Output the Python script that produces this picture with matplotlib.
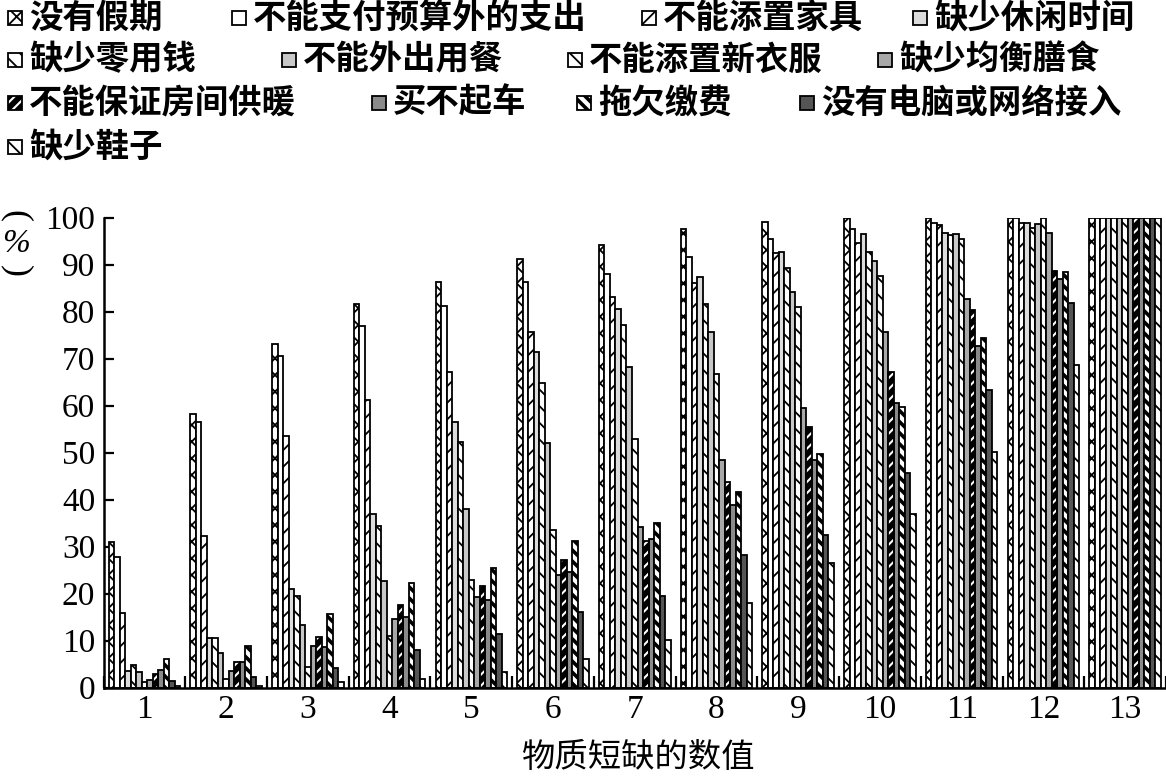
import matplotlib
matplotlib.use("Agg")
import matplotlib.pyplot as plt
from matplotlib.patches import Rectangle
import numpy as np

plt.rcParams['hatch.linewidth'] = 1.3

# ---------------- data ----------------
groups = ['1', '2', '3', '4', '5', '6', '7', '8', '9', '10', '11', '12', '13']
series = ['没有假期', '不能支付预算外的支出', '不能添置家具', '缺少休闲时间',
          '缺少零用钱', '不能外出用餐', '不能添置新衣服', '缺少均衡膳食',
          '不能保证房间供暖', '买不起车', '拖欠缴费', '没有电脑或网络接入', '缺少鞋子']

no_holiday    = [31.0, 58.1, 73.0, 81.5, 86.2, 91.1, 94.1, 97.5, 99.0, 99.8, 100.0, 100.0, 100]
unexpected    = [27.8, 56.4, 70.5, 77.0, 81.2, 86.2, 87.9, 91.5, 95.4, 97.5, 98.9, 99.8, 100]
furniture     = [15.8, 32.3, 53.5, 61.2, 67.1, 75.6, 83.0, 86.0, 92.4, 94.6, 98.3, 98.9, 100]
leisure       = [3.5, 10.6, 20.9, 36.9, 56.4, 71.4, 80.5, 87.3, 92.6, 96.4, 96.6, 98.9, 100]
pocket_money  = [4.7, 10.5, 19.5, 34.4, 52.2, 64.7, 77.1, 81.7, 89.2, 92.6, 96.3, 97.7, 100]
eat_out       = [3.4, 7.3, 13.4, 22.6, 37.9, 52.0, 68.1, 75.7, 84.1, 90.8, 96.4, 98.6, 100]
new_clothes   = [1.2, 1.8, 4.4, 11.0, 22.8, 33.6, 52.9, 66.7, 80.9, 87.6, 95.5, 99.8, 100]
balanced_diet = [1.7, 3.6, 8.8, 14.5, 19.3, 23.9, 34.1, 48.4, 59.4, 75.6, 82.6, 96.6, 100]
heating       = [2.8, 5.5, 10.7, 17.6, 21.7, 27.1, 31.2, 43.8, 55.5, 67.2, 80.3, 88.6, 100]
car           = [3.7, 5.5, 8.6, 14.9, 18.7, 24.6, 31.7, 38.8, 48.3, 60.5, 72.7, 86.9, 100]
arrears       = [6.1, 8.8, 15.6, 22.2, 25.4, 31.1, 34.9, 41.5, 49.6, 59.7, 74.3, 88.3, 100]
computer      = [1.3, 2.3, 4.1, 7.9, 11.3, 16.0, 19.5, 28.2, 32.4, 45.7, 63.2, 81.9, 100]
shoes         = [0.3, 0.3, 1.2, 1.8, 3.4, 6.0, 10.1, 17.9, 26.4, 36.9, 50.2, 68.6, 100]

values = [no_holiday, unexpected, furniture, leisure, pocket_money, eat_out,
          new_clothes, balanced_diet, heating, car, arrears, computer, shoes]

y_ticks = [0, 10, 20, 30, 40, 50, 60, 70, 80, 90, 100]
x_label = '物质短缺的数值'

# ---------------- styles ----------------
# (facecolor, hatch, hatchcolor, hatch linewidth)
styles = [
    ('white', 'xx', 'black', 1.3),
    ('white', '', 'black', 1.3),
    ('white', '//', 'black', 1.3),
    ('#dcdcdc', '', 'black', 1.3),
    ('white', '\\\\', 'black', 1.3),
    ('#c8c8c8', '', 'black', 1.3),
    ('white', '\\\\', 'black', 1.3),
    ('#a8a8a8', '', 'black', 1.3),
    ('black', '///', 'white', 1.5),
    ('#8a8a8a', '', 'black', 1.3),
    ('white', '\\\\\\', 'black', 2.6),
    ('#555555', '', 'black', 1.3),
    ('white', '\\\\', 'black', 1.3),
]


def set_hlw(artist, lw):
    if hasattr(artist, 'set_hatch_linewidth'):
        try:
            artist.set_hatch_linewidth(lw)
        except Exception:
            pass


W, H = 1166, 776
fig = plt.figure(figsize=(W / 100, H / 100), dpi=100)

ax_left, ax_right = 103.5, 1166.0
ax_bottom, ax_top = 687.5, 217.5
ax = fig.add_axes([ax_left / W, 1 - ax_bottom / H,
                   (ax_right - ax_left) / W, (ax_bottom - ax_top) / H])

n = len(series)
centers = np.arange(len(groups))
group_w = 0.875
w = group_w / n

edge_lw = 1.3
for j, (vals, (fc, hatch, hc, hlw)) in enumerate(zip(values, styles)):
    xs = centers - group_w / 2 + w * (j + 0.5)
    if hc == 'white':
        bars = ax.bar(xs, vals, width=w, color=fc, edgecolor='white', hatch=hatch,
                      linewidth=0, zorder=2)
        for b in bars:
            set_hlw(b, hlw)
        ax.bar(xs, vals, width=w, fill=False, edgecolor='black',
               linewidth=edge_lw, zorder=3)
    else:
        bars = ax.bar(xs, vals, width=w, color=fc, edgecolor='black', hatch=hatch,
                      linewidth=edge_lw, zorder=2)
        for b in bars:
            set_hlw(b, hlw)

ax.set_xlim(-0.5, len(groups) - 0.5)
ax.set_ylim(0, 100)

for s in ['top', 'right']:
    ax.spines[s].set_visible(False)
for s in ['left', 'bottom']:
    ax.spines[s].set_linewidth(1.8)
    ax.spines[s].set_zorder(5)

num_font = ['Liberation Serif', 'DejaVu Serif']
ax.set_yticks(y_ticks)
ax.set_yticklabels([str(t) for t in y_ticks], fontfamily=num_font, fontsize=24)
ax.tick_params(axis='y', direction='in', length=7, width=1.6, pad=6)

ax.set_xticks(centers)
ax.set_xticklabels(groups, fontfamily=num_font, fontsize=24)
ax.tick_params(axis='x', which='major', length=0, pad=5)
ax.set_xticks(np.arange(-0.5, len(groups)), minor=True)
ax.tick_params(axis='x', which='minor', direction='in', length=9, width=1.6)

cjk = ['Noto Sans CJK SC', 'DejaVu Sans']
fig.text(638 / W, 1 - 757 / H, x_label, ha='center', va='center',
         fontsize=24, family=cjk)

# y unit label "(%)" in vertical form
fig.text(16 / W, 1 - 216 / H, '(', rotation=-90, ha='center', va='center',
         fontsize=26, family=num_font)
fig.text(16 / W, 1 - 244 / H, '%', ha='center', va='center',
         fontsize=24, family=num_font, style='italic')
fig.text(16 / W, 1 - 271 / H, ')', rotation=-90, ha='center', va='center',
         fontsize=26, family=num_font)

# ---------------- legend (flowing layout) ----------------
legend_pos = [
    (8, 18), (232, 18), (642, 18), (913, 18),
    (8, 60), (282, 60), (568, 60), (878, 60),
    (8, 103), (372, 103), (577, 103), (800, 103),
    (8, 147),
]
box = 14
for (px, py), name, (fc, hatch, hc, hlw) in zip(legend_pos, series, styles):
    y0 = 1 - (py + box / 2) / H
    if hc == 'white':
        r1 = Rectangle((px / W, y0), box / W, box / H,
                       transform=fig.transFigure, facecolor=fc, edgecolor='white',
                       hatch=hatch, linewidth=0)
        set_hlw(r1, hlw)
        fig.add_artist(r1)
        r2 = Rectangle((px / W, y0), box / W, box / H,
                       transform=fig.transFigure, fill=False, edgecolor='black',
                       linewidth=1.3)
        fig.add_artist(r2)
    else:
        r = Rectangle((px / W, y0), box / W, box / H,
                      transform=fig.transFigure, facecolor=fc, edgecolor='black',
                      hatch=hatch, linewidth=1.3)
        set_hlw(r, hlw)
        fig.add_artist(r)
    fig.text((px + 21) / W, 1 - py / H, name, ha='left', va='center',
             fontsize=24, family=cjk, fontweight='bold')

fig.savefig('out.png', dpi=100)
